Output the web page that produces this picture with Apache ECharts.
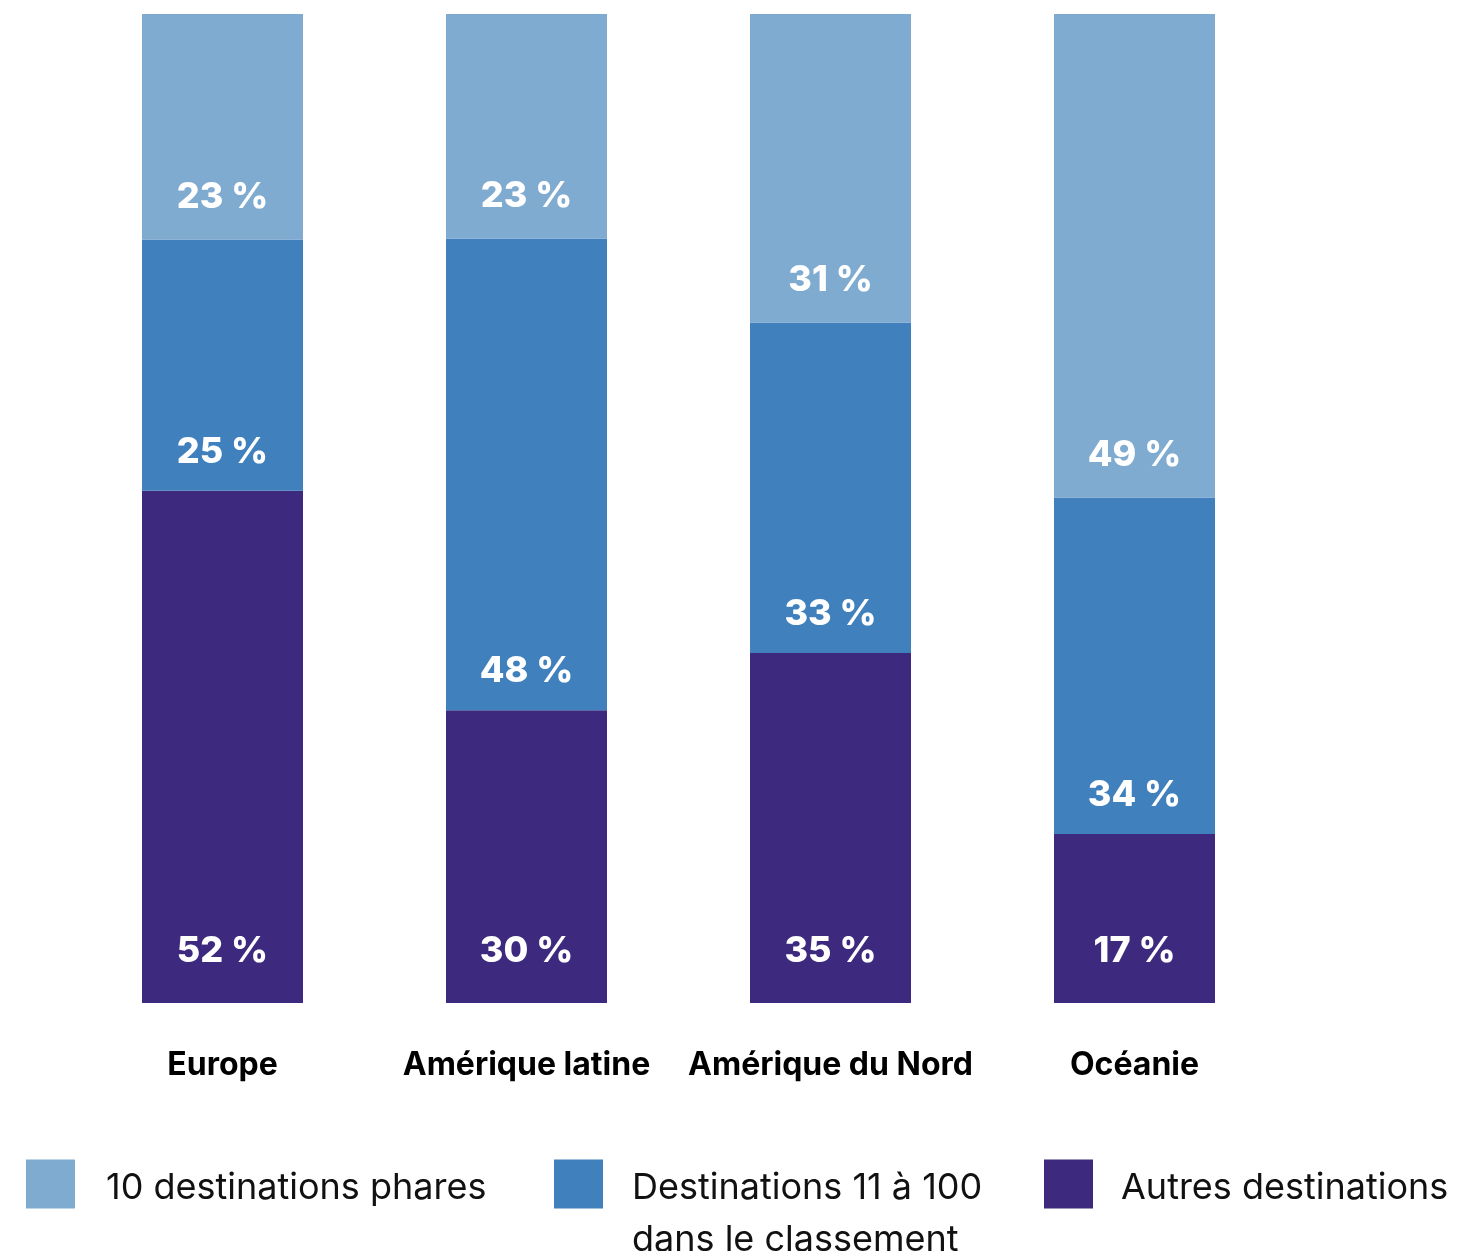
<!DOCTYPE html>
<html>
<head>
<meta charset="utf-8">
<script src="https://cdn.jsdelivr.net/npm/echarts@6/dist/echarts.min.js"></script>
<style>
html,body{margin:0;padding:0;background:#fff;}
#chart{width:1470px;height:1251px;}
</style>
</head>
<body>
<div id="chart"></div>
<script>
var categories = ['Europe', 'Amérique latine', 'Amérique du Nord', 'Océanie'];
var seriesNames = ['10 destinations phares', 'Destinations 11 à 100\ndans le classement', 'Autres destinations'];
var topTen = [22.8, 22.7, 31.2, 48.9];
var rank11to100 = [25.4, 47.7, 33.4, 34.0];
var others = [51.8, 29.6, 35.4, 17.1];
var colors = ['#80ABD1', '#3F80BD', '#3D2A7F'];

var FONT = 'Inter';
var chart = echarts.init(document.getElementById('chart'));

function seg(name, data, color, dist) {
  return {
    name: name,
    type: 'bar',
    stack: 'total',
    data: data,
    barWidth: 161,
    itemStyle: { color: color },
    label: {
      show: true,
      position: 'insideBottom',
      distance: dist,
      color: '#fff',
      fontFamily: FONT,
      fontWeight: 800,
      fontSize: 36,
      formatter: function (p) { return Math.round(p.value) + ' %'; }
    },
    emphasis: { disabled: true }
  };
}

function legendItem(name, left, top, spacer, gap) {
  return {
    data: [name],
    left: left,
    top: top,
    itemWidth: 49,
    itemHeight: 49,
    icon: 'rect',
    selectedMode: false,
    padding: 0,
    formatter: function (n) {
      return '{s| }\n' + n.split('\n').map(function (l) { return '{t|' + l + '}'; }).join('\n');
    },
    textStyle: {
      fontFamily: FONT,
      fontWeight: 400,
      fontSize: 36,
      color: '#111',
      rich: {
        s: { fontSize: 1, lineHeight: spacer },
        t: { fontFamily: FONT, fontSize: 36, color: '#111', lineHeight: 52, padding: [0, 0, 0, gap] }
      }
    }
  };
}

chart.setOption({
  animation: false,
  grid: { left: 70.5, right: 183.5, top: 14, bottom: 248 },
  xAxis: {
    type: 'category',
    data: categories,
    axisLine: { show: false },
    axisTick: { show: false },
    axisLabel: {
      interval: 0,
      margin: 46,
      color: '#000',
      fontFamily: FONT,
      fontWeight: 'bold',
      fontSize: 32
    }
  },
  yAxis: {
    type: 'value',
    min: 0,
    max: 100,
    show: false,
    splitLine: { show: false }
  },
  legend: [
    legendItem(seriesNames[0], 26, 1157.5, 8, 26),
    legendItem(seriesNames[1], 554, 1131.5, 60, 24),
    legendItem(seriesNames[2], 1044, 1157.5, 8, 23)
  ],
  series: [
    seg(seriesNames[2], others, colors[2], 34),
    seg(seriesNames[1], rank11to100, colors[1], 21),
    seg(seriesNames[0], topTen, colors[0], 24)
  ]
});
</script>
</body>
</html>
